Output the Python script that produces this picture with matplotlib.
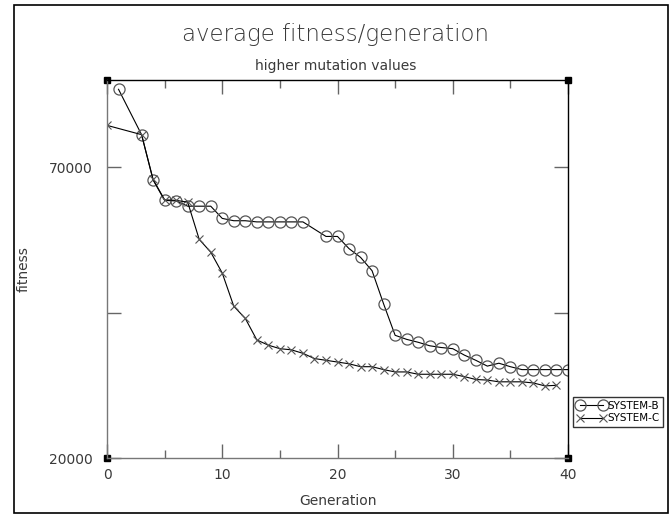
import matplotlib
matplotlib.use("Agg")
import matplotlib.pyplot as plt
from matplotlib.patches import Rectangle
from matplotlib.ticker import MultipleLocator, FixedLocator

plt.rcParams['font.family'] = ['DejaVu Sans']

title = "average fitness/generation"
subtitle = "higher mutation values"
xlabel = "Generation"
ylabel = "fitness"

gen_b = [1, 3, 4, 5, 6, 7, 8, 9, 10, 11, 12, 13, 14, 15, 16, 17, 19, 20, 21, 22, 23, 24,
         25, 26, 27, 28, 29, 30, 31, 32, 33, 34, 35, 36, 37, 38, 39, 40]
fit_b = [83400, 75600, 67800, 64300, 64200, 63300, 63300, 63300, 61200, 60800, 60800,
         60600, 60600, 60600, 60600, 60600, 58100, 58100, 56000, 54500, 52200, 46500,
         41100, 40400, 39900, 39300, 39000, 38800, 37700, 36800, 35800, 36300, 35700,
         35200, 35200, 35200, 35200, 35200]

gen_c = [0, 3, 4, 5, 6, 7, 8, 9, 10, 11, 12, 13, 14, 15, 16, 17, 18, 19, 20, 21, 22, 23,
         24, 25, 26, 27, 28, 29, 30, 31, 32, 33, 34, 35, 36, 37, 38, 39]
fit_c = [77200, 75600, 67900, 64400, 64300, 64000, 57600, 55400, 51800, 46100, 44000,
         40300, 39400, 38800, 38600, 38000, 37100, 36800, 36500, 36200, 35700, 35700,
         35200, 34800, 34800, 34400, 34400, 34400, 34400, 34000, 33500, 33400, 33100,
         33100, 33100, 32900, 32400, 32500]

series_labels = ["SYSTEM-B", "SYSTEM-C"]
xticks = [0, 10, 20, 30, 40]
yticks = [20000, 70000]

fig = plt.figure(figsize=(6.72, 5.16), dpi=100)
ax = fig.add_axes([107/672, 58/516, 461/672, 378/516])

txtcol = '#3a3a3a'
ax.plot(gen_b, fit_b, color='black', lw=0.8, marker='o', markersize=8,
        markerfacecolor='none', markeredgecolor='#555555', markeredgewidth=0.9,
        label=series_labels[0])
ax.plot(gen_c, fit_c, color='black', lw=0.8, marker='x', markersize=6,
        markeredgecolor='#555555', markeredgewidth=0.8, label=series_labels[1])

ax.set_xlim(0, 40)
ax.set_ylim(20000, 85000)
ax.xaxis.set_major_locator(FixedLocator(xticks))
ax.xaxis.set_minor_locator(MultipleLocator(5))
ax.yaxis.set_major_locator(FixedLocator(yticks))
ax.yaxis.set_minor_locator(FixedLocator([45000]))
ax.tick_params(axis='both', which='major', direction='in', length=10, width=1,
               color='#666666', labelsize=10, labelcolor=txtcol, top=True, right=True)
ax.tick_params(axis='both', which='minor', direction='in', length=6, width=1,
               color='#666666', top=True, right=True)
ax.tick_params(axis='y', which='minor', length=10)
ax.tick_params(axis='x', which='major', pad=7)
ax.tick_params(axis='y', which='major', pad=10)
for s in ['left', 'bottom']:
    ax.spines[s].set_color('#777777')
for s in ['top', 'right']:
    ax.spines[s].set_color('black')
for s in ax.spines.values():
    s.set_linewidth(1)

ax.set_xlabel(xlabel, fontsize=10, color=txtcol, labelpad=9)
ax.set_ylabel(ylabel, fontsize=10, color=txtcol)
ax.yaxis.set_label_coords(-0.165, 0.5)

for cx in (0, 1):
    for cy in (0, 1):
        ax.plot([cx], [cy], marker='s', markersize=5, color='black',
                transform=ax.transAxes, clip_on=False)

fig.text(0.5, 1 - 35/516, title, ha='center', va='center', fontsize=16.5, color=txtcol,
         fontweight='light')
fig.text(0.5, 1 - 66/516, subtitle, ha='center', va='center', fontsize=10, color=txtcol)

leg = ax.legend(loc='upper left', bbox_to_anchor=(1.011, 0.161), numpoints=2,
                fontsize=7.5, frameon=True, fancybox=False, borderpad=0.35,
                handlelength=2.8, handletextpad=0.15, labelspacing=0.25,
                borderaxespad=0)
leg.get_frame().set_edgecolor('black')
leg.get_frame().set_linewidth(1)

fig.patches.append(Rectangle((14/672, 3/516), 654/672, 508/516, transform=fig.transFigure,
                             fill=False, edgecolor='black', linewidth=1.2))

fig.savefig("out.png", dpi=100)
